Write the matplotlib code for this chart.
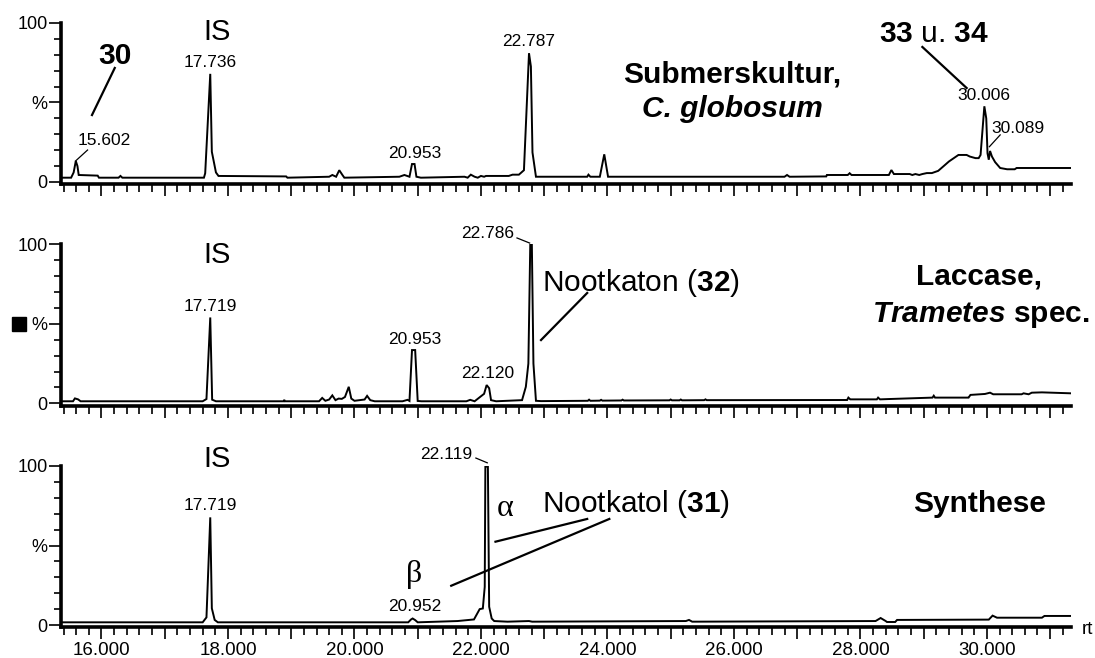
import matplotlib
matplotlib.use('Agg')
import matplotlib.pyplot as plt
from matplotlib.ticker import MultipleLocator, FixedLocator, FuncFormatter
from matplotlib.patches import Rectangle

plt.rcParams['font.family'] = ['Liberation Sans', 'DejaVu Sans']
plt.rcParams['mathtext.fontset'] = 'custom'
plt.rcParams['mathtext.rm'] = 'Liberation Sans'
plt.rcParams['mathtext.bf'] = 'Liberation Sans:bold'
plt.rcParams['mathtext.it'] = 'Liberation Sans:italic:bold'

# ---------------- data (retention time [min], relative intensity [%]) -------------
rt_sub = [15.36, 15.52, 15.56, 15.594, 15.62, 15.64, 15.94, 15.96, 16.27, 16.30, 16.33,
          17.62, 17.64, 17.72, 17.745, 17.81, 17.85, 18.92, 18.94,
          19.60, 19.65, 19.71, 19.76, 19.81, 19.84,
          20.71, 20.79, 20.87, 20.91, 20.95, 20.98, 21.05,
          21.74, 21.79, 21.84, 21.90, 21.95, 22.00, 22.05, 22.08, 22.44, 22.50, 22.60, 22.68,
          22.76, 22.79, 22.815, 22.87,
          23.68, 23.70, 23.73, 23.88, 23.95, 24.01,
          26.80, 26.84, 26.88, 27.46, 27.47, 27.80, 27.83, 27.86,
          28.45, 28.49, 28.53, 28.78, 28.82, 28.87, 28.93, 28.98, 29.05, 29.13, 29.23,
          29.34, 29.40, 29.55, 29.68, 29.73, 29.82, 29.87, 29.90, 29.96, 29.99, 30.01,
          30.03, 30.05, 30.08, 30.13, 30.21, 30.32, 30.44, 30.47, 31.33]
int_sub = [2.7, 2.7, 6.0, 13.2, 10.0, 4.4, 4.0, 2.7, 2.7, 3.8, 2.7,
           2.7, 5.5, 68.0, 19.0, 6.0, 3.8, 3.5, 2.7,
           3.3, 4.4, 3.3, 7.4, 4.4, 2.7,
           3.3, 4.4, 3.3, 11.3, 11.3, 3.3, 2.7,
           3.3, 2.7, 4.6, 3.3, 2.7, 3.8, 3.3, 3.8, 3.8, 4.6, 4.6, 7.4,
           81.0, 72.6, 18.6, 3.3,
           3.3, 4.6, 3.3, 3.3, 17.4, 3.3,
           3.3, 4.4, 3.3, 3.5, 4.4, 4.4, 5.5, 4.4,
           4.4, 7.5, 5.0, 5.0, 4.4, 5.0, 4.4, 5.0, 5.6, 5.6, 7.0,
           10.8, 12.9, 17.0, 17.0, 16.0, 15.0, 15.0, 17.0, 47.6, 40.0, 18.0,
           14.0, 19.5, 16.0, 12.5, 8.8, 8.0, 8.0, 8.8, 8.8]

rt_lac = [15.36, 15.55, 15.58, 15.63, 15.67, 17.60, 17.66, 17.72, 17.75, 17.81,
          18.88, 18.89, 18.90,
          19.44, 19.49, 19.54, 19.60, 19.65, 19.70, 19.75, 19.80, 19.85, 19.91, 19.95,
          20.00, 20.16, 20.20, 20.25, 20.32,
          20.76, 20.84, 20.87, 20.91, 20.96, 21.00, 21.06,
          21.77, 21.83, 21.90, 22.05, 22.09, 22.13, 22.16, 22.24,
          22.65, 22.71, 22.75, 22.78, 22.805, 22.83, 22.87, 22.95,
          23.69, 23.71, 23.73, 23.88, 23.90, 23.92, 24.22, 24.24, 24.26,
          24.98, 25.00, 25.02, 25.14, 25.16, 25.18, 25.53, 25.55, 25.57,
          27.79, 27.81, 27.84, 28.26, 28.28, 28.31, 28.45, 29.14, 29.16, 29.18, 29.21,
          29.70, 29.71, 29.74, 29.97, 30.05, 30.10, 30.55, 30.58, 30.66, 30.71, 30.87, 31.33]
int_lac = [1.3, 1.3, 3.1, 2.5, 1.3, 1.3, 2.7, 54.0, 2.3, 1.3,
           1.3, 2.2, 1.3,
           1.3, 3.4, 1.6, 2.4, 5.0, 2.0, 3.0, 2.8, 4.0, 10.4, 3.0,
           1.6, 2.4, 4.7, 2.0, 1.3,
           1.3, 2.2, 1.5, 33.5, 33.5, 1.5, 1.3,
           1.3, 2.2, 1.3, 6.0, 11.5, 9.5, 2.0, 1.3,
           2.0, 10.4, 25.0, 100.0, 100.0, 25.0, 1.6, 1.4,
           1.6, 2.3, 1.6, 1.7, 2.2, 1.7, 1.8, 2.3, 1.8,
           1.9, 2.4, 1.9, 1.9, 2.4, 1.9, 2.0, 2.5, 2.0,
           2.1, 3.6, 2.5, 2.5, 3.6, 2.5, 2.7, 3.6, 4.8, 3.6, 3.6,
           3.6, 3.6, 5.3, 5.9, 6.7, 5.7, 5.7, 6.3, 5.7, 6.7, 6.9, 6.3]

rt_syn = [15.36, 17.60, 17.66, 17.72, 17.745, 17.79, 17.84,
          20.85, 20.895, 20.92, 20.96, 21.00, 21.63, 21.89, 21.98, 22.03, 22.06, 22.07,
          22.11, 22.13, 22.17, 22.21, 22.42, 22.76, 22.81, 25.24, 25.29, 25.34,
          28.24, 28.32, 28.40, 28.42, 28.55, 28.58, 30.03, 30.09, 30.16, 30.87, 30.91, 31.33]
int_syn = [1.7, 1.7, 4.8, 67.7, 10.5, 3.2, 1.7,
           1.7, 3.5, 4.1, 3.1, 1.7, 2.5, 3.5, 10.0, 10.4, 24.0, 99.6,
           99.6, 11.5, 4.1, 2.5, 2.1, 2.5, 2.1, 2.5, 3.2, 2.1,
           2.5, 4.4, 2.5, 1.9, 1.9, 3.2, 3.4, 5.9, 4.6, 4.6, 5.7, 5.7]

x_tick_values = [16, 18, 20, 22, 24, 26, 28, 30]
x_tick_labels = ['16.000', '18.000', '20.000', '22.000', '24.000', '26.000', '28.000', '30.000']
y_tick_values = [0, 50, 100]
y_tick_labels = ['0', '%', '100']

# ---------------- figure ----------------
W, H = 1095, 658
fig = plt.figure(figsize=(W / 100, H / 100), dpi=100)

xl, xr = 61 / W, 1071 / W
bottoms = [0.7198, 0.3834, 0.0465]
height = 0.2453

traces = [(rt_sub, int_sub), (rt_lac, int_lac), (rt_syn, int_syn)]
axes = []
for i, (rts, ints) in enumerate(traces):
    ax = fig.add_axes([xl, bottoms[i], xr - xl, height])
    ax.plot(rts, ints, color='black', lw=1.4, solid_joinstyle='miter')
    ax.set_xlim(15.36, 31.33)
    ax.set_ylim(-1.5, 100)
    for s in ['top', 'right']:
        ax.spines[s].set_visible(False)
    for s in ['left', 'bottom']:
        ax.spines[s].set_linewidth(2.6)
    # x ticks
    ax.xaxis.set_major_locator(MultipleLocator(1))
    ax.xaxis.set_minor_locator(MultipleLocator(0.2))
    if i == 2:
        labmap = dict(zip(x_tick_values, x_tick_labels))
        ax.xaxis.set_major_formatter(FuncFormatter(lambda v, p: labmap.get(int(round(v)), '') if abs(v - round(v)) < 1e-6 else ''))
    else:
        ax.xaxis.set_major_formatter(FuncFormatter(lambda v, p: ''))
    ax.tick_params(axis='x', which='major', length=8.6, width=1.2, direction='out',
                   labelsize=13.5, pad=2)
    ax.tick_params(axis='x', which='minor', length=5.5, width=1.2, direction='out')
    # y ticks
    ax.yaxis.set_major_locator(FixedLocator(y_tick_values))
    ax.set_yticklabels(y_tick_labels)
    ax.yaxis.set_minor_locator(MultipleLocator(10))
    ax.tick_params(axis='y', which='major', length=8.6, width=1.2, direction='out',
                   labelsize=13, pad=1)
    ax.tick_params(axis='y', which='minor', length=5, width=1.2, direction='out')
    axes.append(ax)

ax1, ax2, ax3 = axes
kw_small = dict(fontsize=12.5, ha='center', va='center')
kw_big = dict(fontsize=21.5, va='center')
thin = dict(color='black', lw=0.9)
thick = dict(color='black', lw=1.6)

# ---- panel 1 ----
ax1.text(17.82, 94.3, 'IS', fontsize=21, ha='center', va='center', clip_on=False)
ax1.text(16.21, 79, '30', fontsize=21.5, fontweight='bold', ha='center', va='center')
ax1.plot([16.21, 15.85], [71.7, 42.1], **thick)
ax1.text(16.05, 26.4, '15.602', **kw_small)
ax1.plot([15.78, 15.59], [20.1, 13.2], **thin)
ax1.text(17.72, 75.2, '17.736', **kw_small)
ax1.text(20.95, 18.2, '20.953', **kw_small)
ax1.text(22.76, 88.4, '22.787', **kw_small)
ax1.text(25.98, 67.3, 'Submerskultur,', fontweight='bold', ha='center', **kw_big)
ax1.text(25.98, 45.9, 'C. globosum', fontweight='bold', fontstyle='italic', ha='center', **kw_big)
ax1.text(28.29, 93, r'$\mathbf{33}$ u. $\mathbf{34}$', ha='left', clip_on=False, **kw_big)
ax1.plot([28.98, 29.68], [84.9, 59.1], **thick)
ax1.text(29.96, 54.7, '30.006', **kw_small)
ax1.text(30.07, 33.6, '30.089', fontsize=12.5, ha='left', va='center')
ax1.plot([30.21, 30.04], [29.6, 22.2], **thin)

# ---- panel 2 ----
ax2.text(17.82, 93.3, 'IS', fontsize=21, ha='center', va='center')
ax2.text(17.72, 61.2, '17.719', **kw_small)
ax2.text(20.95, 40.4, '20.953', **kw_small)
ax2.text(22.10, 18.7, '22.120', **kw_small)
ax2.text(22.11, 106.8, '22.786', clip_on=False, **kw_small)
ax2.plot([22.57, 22.77], [104, 100.8], clip_on=False, **thin)
ax2.text(22.97, 75.7, r'Nootkaton ($\mathbf{32}$)', ha='left', **kw_big)
ax2.plot([23.68, 22.95], [69.4, 39.8], **thick)
ax2.text(29.88, 79.7, 'Laccase,', fontweight='bold', ha='center', **kw_big)
ax2.text(29.90, 55.5, r'$\mathit{Trametes}$ spec.', fontweight='bold', ha='center', **kw_big)
fig.patches.append(Rectangle((11.7 / W, 1 - 330.7 / H), 14.3 / W, 14 / H,
                             transform=fig.transFigure, color='black'))

# ---- panel 3 ----
ax3.text(17.82, 104.7, 'IS', fontsize=21, ha='center', va='center', clip_on=False)
ax3.text(17.72, 75.2, '17.719', **kw_small)
ax3.text(21.45, 107, '22.119', clip_on=False, **kw_small)
ax3.plot([21.92, 22.10], [105, 102], clip_on=False, **thin)
ax3.text(22.39, 73.3, 'α', fontsize=23, family=['Liberation Serif', 'DejaVu Serif'],
         ha='center', va='center')
ax3.text(22.97, 75.8, r'Nootkatol ($\mathbf{31}$)', ha='left', **kw_big)
ax3.plot([23.68, 22.23], [66.7, 52.4], **thick)
ax3.plot([24.03, 21.53], [66.7, 24.7], **thick)
ax3.text(20.95, 32, 'β', fontsize=23, family=['Liberation Serif', 'DejaVu Serif'],
         ha='center', va='center')
ax3.text(20.95, 11.6, '20.952', **kw_small)
ax3.text(29.88, 75.8, 'Synthese', fontweight='bold', ha='center', **kw_big)
fig.text(1087 / W, 1 - 629 / H, 'rt', fontsize=13.5, ha='center', va='center')

fig.savefig('out.png', dpi=100)
